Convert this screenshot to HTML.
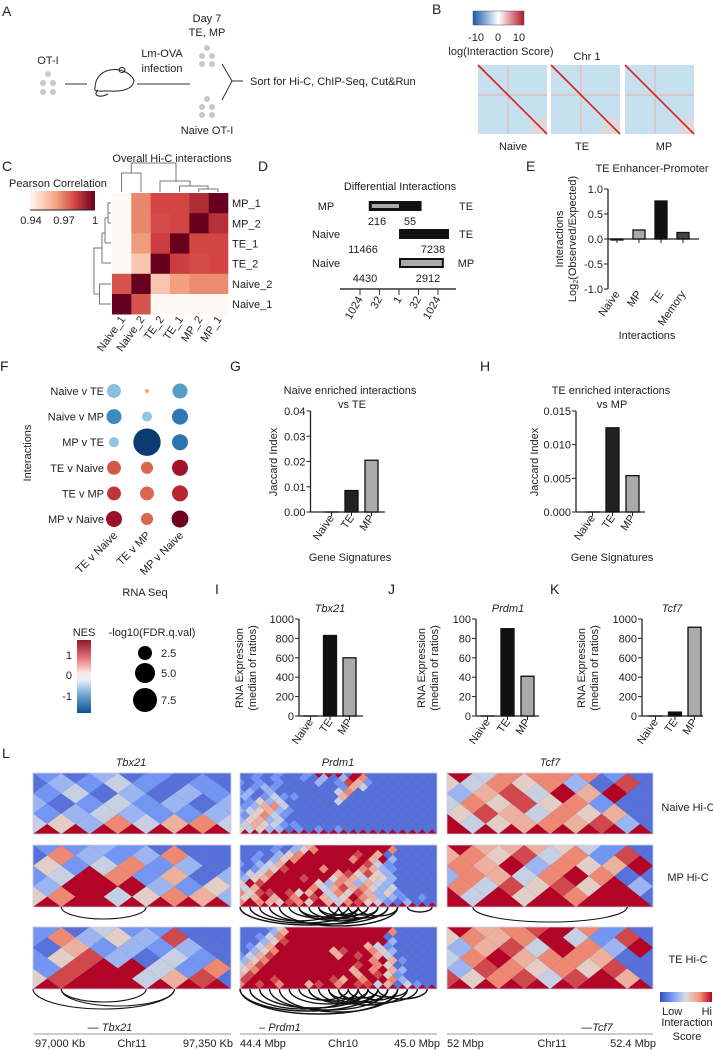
<!DOCTYPE html>
<html><head><meta charset="utf-8"><style>
html,body{margin:0;padding:0;background:#fff;}
svg{display:block;font-family:"Liberation Sans",sans-serif;}
text{fill:#222;}
</style></head><body>
<svg id="fig" width="713" height="1050" viewBox="0 0 713 1050">
<defs>
<linearGradient id="gB" x1="0" x2="1" y1="0" y2="0"><stop offset="0" stop-color="#1a5aa8"/><stop offset="0.5" stop-color="#ffffff"/><stop offset="1" stop-color="#b2182b"/></linearGradient>
<linearGradient id="gC" x1="0" x2="1"><stop offset="0" stop-color="#fff8f3"/><stop offset="0.4" stop-color="#f4a582"/><stop offset="0.7" stop-color="#d04040"/><stop offset="1" stop-color="#67001f"/></linearGradient>
<linearGradient id="gNES" x1="0" x2="0" y1="0" y2="1"><stop offset="0" stop-color="#8b1a2a"/><stop offset="0.25" stop-color="#e8757a"/><stop offset="0.45" stop-color="#fbe9e4"/><stop offset="0.55" stop-color="#e8f1f8"/><stop offset="0.75" stop-color="#6fa8d3"/><stop offset="1" stop-color="#0c4f93"/></linearGradient>
<linearGradient id="gL" x1="0" x2="1"><stop offset="0" stop-color="#3b4cc0"/><stop offset="0.25" stop-color="#7b9ff9"/><stop offset="0.5" stop-color="#dddddd"/><stop offset="0.75" stop-color="#f49a7b"/><stop offset="1" stop-color="#b40426"/></linearGradient>
</defs>

<!-- Panel A -->
<g font-size="11">
<text x="2" y="16" font-size="14">A</text>
<text x="48" y="64" text-anchor="middle">OT-I</text>
<g fill="#c8c8c8"><circle cx="48" cy="74" r="3"/><circle cx="43" cy="83" r="3"/><circle cx="53" cy="83" r="3"/><circle cx="43" cy="92" r="3"/><circle cx="53" cy="92" r="3"/></g>
<line x1="65" y1="84" x2="87" y2="84" stroke="#333"/>
<g fill="none" stroke="#222" stroke-width="1">
<path d="M95,88 C95,66 125,64 134,80 C134,86 128,92 110,91 C100,91 93,92 95,88 Z"/><ellipse cx="122" cy="70" rx="3" ry="2.5"/><path d="M98,90 C92,96 100,98 108,94"/></g>
<text x="162" y="57" text-anchor="middle">Lm-OVA</text>
<text x="162" y="72" text-anchor="middle">infection</text>
<line x1="137" y1="84" x2="190" y2="84" stroke="#333"/>
<text x="207" y="22" text-anchor="middle">Day 7</text>
<text x="207" y="36" text-anchor="middle">TE, MP</text>
<g fill="#c8c8c8"><circle cx="207" cy="48" r="3"/><circle cx="202" cy="56" r="3"/><circle cx="212" cy="56" r="3"/><circle cx="202" cy="64" r="3"/><circle cx="212" cy="64" r="3"/></g>
<path d="M222,64 L232,81 L222,100 M232,81 L243,81" fill="none" stroke="#333"/>
<text x="250" y="85">Sort for Hi-C, ChIP-Seq, Cut&amp;Run</text>
<g fill="#c8c8c8"><circle cx="207" cy="99" r="3"/><circle cx="202" cy="107" r="3"/><circle cx="212" cy="107" r="3"/><circle cx="202" cy="115" r="3"/><circle cx="212" cy="115" r="3"/></g>
<text x="207" y="134" text-anchor="middle">Naive OT-I</text>
</g>

<!-- Panel B -->
<g font-size="11">
<text x="432" y="14" font-size="14">B</text>
<rect x="473" y="11" width="51" height="14" fill="url(#gB)" stroke="#555" stroke-width="0.5"/>
<text x="476" y="41" text-anchor="middle">-10</text>
<text x="498" y="41" text-anchor="middle">0</text>
<text x="519" y="41" text-anchor="middle">10</text>
<text x="501" y="55" text-anchor="middle">log(Interaction Score)</text>
<text x="587" y="60" text-anchor="middle">Chr 1</text>
<g id="bmaps"></g>
<text x="513" y="150" text-anchor="middle">Naive</text>
<text x="582" y="150" text-anchor="middle">TE</text>
<text x="664" y="150" text-anchor="middle">MP</text>
</g>

<!-- Panel C -->
<g font-size="11">
<text x="2" y="171" font-size="14">C</text>
<text x="172" y="162" text-anchor="middle">Overall Hi-C interactions</text>
<text x="9" y="187">Pearson Correlation</text>
<rect x="30" y="191" width="65" height="19" fill="url(#gC)"/>
<line x1="30" y1="210" x2="95" y2="210" stroke="#222"/>
<text x="31" y="224" text-anchor="middle">0.94</text>
<text x="64" y="224" text-anchor="middle">0.97</text>
<text x="95" y="224" text-anchor="middle">1</text>
<g fill="none" stroke="#777" stroke-width="1">
<path d="M121.6,192 V173 H141 V192 M131.3,173 V163 H176 V181 M160,192 V181 H190 V186 M179.5,192 V186 H208 V189 M198.8,192 V189 H218 V192"/>
<path d="M111,203 H108 V213 H111 M111,223 H108 M108,213 V223 M108,218 H105 V243 M111,243 H105 M105,233 H102 M111,263 H102 V233 M102,248 H94 V294 M111,284 H99.5 V304 H111 M99.5,294 H94"/>
</g>
<g id="cmap"></g>
</g>

<!-- Panel D -->
<g font-size="11">
<text x="258" y="171" font-size="14">D</text>
<text x="400" y="190" text-anchor="middle">Differential Interactions</text>
<g id="dchart"></g>
</g>

<!-- Panel E -->
<g font-size="11">
<text x="526" y="171" font-size="14">E</text>
<text x="652" y="172" text-anchor="middle">TE Enhancer-Promoter</text>
<text transform="translate(563,239) rotate(-90)" text-anchor="middle">Interactions</text>
<text transform="translate(576,239) rotate(-90)" text-anchor="middle">Log<tspan font-size="7" dy="2">2</tspan><tspan dy="-2">(Observed/Expected)</tspan></text>
<text x="647" y="339" text-anchor="middle">Interactions</text>
<g id="echart"></g>
</g>

<!-- Panel F -->
<g font-size="11">
<text x="0" y="371" font-size="14">F</text>
<text transform="translate(31,453) rotate(-90)" text-anchor="middle">Interactions</text>
<text x="145" y="596" text-anchor="middle">RNA Seq</text>
<g id="fchart"></g>
<text x="84" y="636" text-anchor="middle">NES</text>
<rect x="77" y="640" width="14" height="73" fill="url(#gNES)"/>
<text x="72" y="659" text-anchor="end">1</text>
<text x="72" y="679" text-anchor="end">0</text>
<text x="72" y="700" text-anchor="end">-1</text>
<text x="152" y="636" text-anchor="middle">-log10(FDR.q.val)</text>
<g fill="#000"><circle cx="145" cy="653" r="7"/><circle cx="145" cy="673" r="10"/><circle cx="145" cy="700" r="12"/></g>
<text x="161" y="657">2.5</text>
<text x="161" y="677">5.0</text>
<text x="161" y="704">7.5</text>
</g>

<!-- Panels G-K -->
<g font-size="11">
<text x="230" y="371" font-size="14">G</text>
<text x="350" y="394" text-anchor="middle">Naive enriched interactions</text>
<text x="352" y="408" text-anchor="middle">vs TE</text>
<text transform="translate(277,462) rotate(-90)" text-anchor="middle">Jaccard Index</text>
<text x="350" y="561" text-anchor="middle">Gene Signatures</text>
<text x="480" y="371" font-size="14">H</text>
<text x="611" y="394" text-anchor="middle">TE enriched interactions</text>
<text x="612" y="408" text-anchor="middle">vs MP</text>
<text transform="translate(538,462) rotate(-90)" text-anchor="middle">Jaccard Index</text>
<text x="612" y="561" text-anchor="middle">Gene Signatures</text>
<text x="215" y="594" font-size="14">I</text>
<text x="388" y="594" font-size="14">J</text>
<text x="550" y="594" font-size="14">K</text>
<text x="330" y="612" text-anchor="middle" font-style="italic">Tbx21</text>
<text x="508" y="612" text-anchor="middle" font-style="italic">Prdm1</text>
<text x="672" y="612" text-anchor="middle" font-style="italic">Tcf7</text>
<text transform="translate(243,668) rotate(-90)" text-anchor="middle">RNA Expression</text>
<text transform="translate(256,668) rotate(-90)" text-anchor="middle">(median of ratios)</text>
<text transform="translate(425,668) rotate(-90)" text-anchor="middle">RNA Expression</text>
<text transform="translate(438,668) rotate(-90)" text-anchor="middle">(median of ratios)</text>
<text transform="translate(585,668) rotate(-90)" text-anchor="middle">RNA Expression</text>
<text transform="translate(598,668) rotate(-90)" text-anchor="middle">(median of ratios)</text>
<g id="bars"></g>
</g>

<!-- Panel L -->
<g font-size="11">
<text x="2" y="758" font-size="14">L</text>
<text x="131" y="766" text-anchor="middle" font-style="italic">Tbx21</text>
<text x="338" y="766" text-anchor="middle" font-style="italic">Prdm1</text>
<text x="550" y="766" text-anchor="middle" font-style="italic">Tcf7</text>
<text x="688" y="811" text-anchor="middle">Naive Hi-C</text>
<text x="688" y="881" text-anchor="middle">MP Hi-C</text>
<text x="688" y="963" text-anchor="middle">TE Hi-C</text>
<g id="hic"></g>
<text x="110" y="1031" font-style="italic" text-anchor="middle">— Tbx21</text>
<text x="280" y="1031" font-style="italic" text-anchor="middle">– Prdm1</text>
<text x="597" y="1031" font-style="italic" text-anchor="middle">—Tcf7</text>
<g stroke="#999"><line x1="34" y1="1034" x2="231" y2="1034"/><line x1="240" y1="1034" x2="437" y2="1034"/><line x1="447" y1="1034" x2="653" y2="1034"/></g>
<text x="35" y="1047">97,000 Kb</text>
<text x="132" y="1047" text-anchor="middle">Chr11</text>
<text x="233" y="1047" text-anchor="end">97,350 Kb</text>
<text x="240" y="1047">44.4 Mbp</text>
<text x="343" y="1047" text-anchor="middle">Chr10</text>
<text x="440" y="1047" text-anchor="end">45.0 Mbp</text>
<text x="447" y="1047">52 Mbp</text>
<text x="552" y="1047" text-anchor="middle">Chr11</text>
<text x="656" y="1047" text-anchor="end">52.4 Mbp</text>
<rect x="660" y="992" width="52" height="10" fill="url(#gL)"/>
<text x="662" y="1015">Low</text>
<text x="712" y="1015" text-anchor="end">Hi</text>
<text x="687" y="1026" text-anchor="middle">Interaction</text>
<text x="687" y="1040" text-anchor="middle">Score</text>
</g>
</svg>
<script>
const NS='http://www.w3.org/2000/svg';
function mk(tag,attrs,parent){const e=document.createElementNS(NS,tag);for(const k in attrs)e.setAttribute(k,attrs[k]);parent.appendChild(e);return e;}
function lerpC(stops,t){t=Math.max(0,Math.min(1,t));const n=stops.length-1;const i=Math.min(n-1,Math.floor(t*n));const f=t*n-i;const a=stops[i],b=stops[i+1];const h=s=>[1,3,5].map(j=>parseInt(s.substr(j,2),16));const A=h(a),B=h(b);return 'rgb('+A.map((v,k)=>Math.round(v+(B[k]-v)*f)).join(',')+')';}

// ---- Panel B data
const bSamples=['Naive','TE','MP'];
const bX=[478,551,625];
const bmaps=document.getElementById('bmaps');
bSamples.forEach((s,i)=>{
  const g=mk('g',{},bmaps);
  
  
  const x=bX[i];
  mk('rect',{x:x,y:65,width:69,height:69,fill:'#c6e0ef'},g);
  mk('rect',{x:x+52,y:118,width:17,height:16,fill:'#eed3cc',opacity:0.6},g);
  mk('line',{x1:x,y1:95,x2:x+69,y2:95,stroke:'#e8b8b0',"stroke-width":1.2},g);
  mk('line',{x1:x+30,y1:65,x2:x+30,y2:134,stroke:'#e8b8b0',"stroke-width":1.2},g);
  mk('line',{x1:x,y1:65,x2:x+69,y2:134,stroke:'#d62020',"stroke-width":1.6},g);
});

// ---- Panel C data
const cRows=['MP_1','MP_2','TE_1','TE_2','Naive_2','Naive_1'];
const cCols=['Naive_1','Naive_2','TE_2','TE_1','MP_2','MP_1'];
const cVals=[
 [0.93,0.966,0.979,0.979,0.986,1],
 [0.93,0.966,0.978,0.979,1,0.985],
 [0.93,0.962,0.981,1,0.979,0.979],
 [0.93,0.952,1,0.981,0.978,0.979],
 [0.976,1,0.952,0.961,0.965,0.965],
 [1,0.976,0.93,0.93,0.93,0.93]];
const cStops=['#fff8f3','#f4a582','#d04040','#67001f'];
const cmap=document.getElementById('cmap');
const cw=19.33,ch=20.2,cx0=112,cy0=193;
cVals.forEach((row,r)=>row.forEach((v,c)=>{
  const e=mk('rect',{x:cx0+c*cw,y:cy0+r*ch,width:cw+0.3,height:ch+0.3,fill:lerpC(cStops,(v-0.94)/0.06)},cmap);
  
  
}));
cRows.forEach((n,r)=>{const t=mk('text',{x:232,y:cy0+r*ch+ch/2+4},cmap);t.textContent=n;
  
  });
cCols.forEach((n,c)=>{const t=mk('text',{transform:'translate('+(cx0+c*cw+cw/2+4)+','+(cy0+6*ch+5)+') rotate(-55)','text-anchor':'end'},cmap);t.textContent=n;
  
  });

// ---- Panel D data
const dLeftLabels=['MP','Naive','Naive'];
const dRightLabels=['TE','TE','MP'];
const dLeftCounts=[216,11466,4430];
const dRightCounts=[55,7238,2912];
const dTicks=['1024','32','1','32','1024'];
const dTickVals=[-1024,-32,1,32,1024];
const dchart=document.getElementById('dchart');
const dZero=399,dPer=3.9;
const dx=v=>v<0?dZero-Math.log2(-v)*dPer:dZero+Math.log2(v)*dPer;
const dRowY=[201,229,258];
dLeftLabels.forEach((l,i)=>{
  const y=dRowY[i];
  let t=mk('text',{x:326,y:y+9,'text-anchor':'middle'},dchart);t.textContent=l;
  
  
  t=mk('text',{x:466,y:y+9,'text-anchor':'middle'},dchart);t.textContent=dRightLabels[i];
  
  
  const xr=dx(dRightCounts[i]);
  if(i===0){
    const xl=dx(-dLeftCounts[i]);
    let b=mk('rect',{x:xl,y:y,width:xr-xl,height:10,fill:'#111'},dchart);
    
    
    b=mk('rect',{x:xl+3,y:y+3,width:dZero-xl-3,height:4,fill:'#aaa'},dchart);
    
    
  } else if(i===1){
    const b=mk('rect',{x:dZero,y:y,width:xr-dZero,height:10,fill:'#111'},dchart);
    
    
  } else {
    const b=mk('rect',{x:dZero+1,y:y+1,width:xr-dZero-2,height:8,fill:'#aaa',stroke:'#111','stroke-width':2},dchart);
    
    
  }
  t=mk('text',{x:[377,363,365][i],y:y+24,'text-anchor':'middle'},dchart);t.textContent=dLeftCounts[i];
  
  
  t=mk('text',{x:[410,433,428][i],y:y+24,'text-anchor':'middle'},dchart);t.textContent=dRightCounts[i];
  
  
});
let dax=mk('line',{x1:340,y1:289,x2:456,y2:289,stroke:'#333','stroke-width':1.5},dchart);


dTickVals.forEach((v,i)=>{const x=dx(v);
  const tk=mk('line',{x1:x,y1:289,x2:x,y2:295,stroke:'#333'},dchart);
  
  
  const t=mk('text',{transform:'translate('+(x+3)+',299) rotate(-60)','text-anchor':'end'},dchart);t.textContent=dTicks[i];
  
  });

// ---- generic bar chart
function barChart(parent,name,cfg){
  const g=mk('g',{},parent);
  
  
  const y=v=>cfg.y0-(v-cfg.vmin)/(cfg.vmax-cfg.vmin)*(cfg.y0-cfg.y1);
  const ax=mk('line',{x1:cfg.ax,y1:cfg.y1,x2:cfg.ax,y2:cfg.y0,stroke:'#222','stroke-width':1.3},g);
  
  
  const bx=mk('line',{x1:cfg.ax,y1:y(0),x2:cfg.xend,y2:y(0),stroke:'#222','stroke-width':1.3},g);
  
  
  cfg.ticks.forEach((tv,i)=>{
    const tk=mk('line',{x1:cfg.ax-4,y1:y(tv),x2:cfg.ax,y2:y(tv),stroke:'#222'},g);
    
    
    const t=mk('text',{x:cfg.ax-5,y:y(tv)+4,'text-anchor':'end'},g);t.textContent=cfg.tickLabels[i];
    
    
  });
  cfg.cats.forEach((c,i)=>{
    const x=cfg.bx0+i*cfg.step;
    const v=cfg.vals[i];
    const top=Math.min(y(v),y(0)),h=Math.abs(y(v)-y(0));
    const r=mk('rect',{x:x,y:top,width:cfg.bw,height:Math.max(h,0.01),fill:cfg.fills[i],stroke:'#111','stroke-width':1.3},g);
    
    
    const tk=mk('line',{x1:x+cfg.bw/2,y1:y(0),x2:x+cfg.bw/2,y2:y(0)+4,stroke:'#222'},g);
    
    
    const t=mk('text',{transform:'translate('+(x+cfg.bw/2+3)+','+(cfg.labY)+') rotate(-55)','text-anchor':'end'},g);t.textContent=c;
    
    
  });
}

// Panel E data
const eCats=['Naive','MP','TE','Memory'];
const eVals=[-0.02,0.18,0.76,0.13];
const eTicks=[1,0.5,0,-0.5,-1];
const eTickLabels=['1.0','0.5','0.0','-0.5','-1.0'];
barChart(document.getElementById('echart'),'e-chart',{cats:eCats,vals:eVals,ticks:eTicks,tickLabels:eTickLabels,fills:['#555','#aaa','#111','#444'],vmin:-1,vmax:1,y0:289,y1:189,ax:608,xend:699,bx0:611,step:22,bw:12,labY:294});

// Panel G data
const gCats=['Naive','TE','MP'];
const gVals=[0,0.0085,0.0205];
const gTicks=[0,0.01,0.02,0.03,0.04];
const gTickLabels=['0.00','0.01','0.02','0.03','0.04'];
const barsEl=document.getElementById('bars');
barChart(barsEl,'g-chart',{cats:gCats,vals:gVals,ticks:gTicks,tickLabels:gTickLabels,fills:['#222','#222','#aaa'],vmin:0,vmax:0.04,y0:512,y1:411,ax:310.5,xend:385,bx0:325,step:20,bw:13,labY:518});
// Panel H data
const hCats=['Naive','TE','MP'];
const hVals=[0,0.0125,0.0054];
const hTicks=[0,0.005,0.01,0.015];
const hTickLabels=['0.000','0.005','0.010','0.015'];
barChart(barsEl,'h-chart',{cats:hCats,vals:hVals,ticks:hTicks,tickLabels:hTickLabels,fills:['#222','#222','#aaa'],vmin:0,vmax:0.015,y0:512,y1:411,ax:576,xend:645,bx0:586,step:20,bw:13,labY:518});
// Panel I data
const iCats=['Naive','TE','MP'];
const iVals=[0,830,600];
const iTicks=[0,200,400,600,800,1000];
const iTickLabels=['0','200','400','600','800','1000'];
barChart(barsEl,'i-chart',{cats:iCats,vals:iVals,ticks:iTicks,tickLabels:iTickLabels,fills:['#111','#111','#aaa'],vmin:0,vmax:1000,y0:716,y1:619,ax:299,xend:363,bx0:304,step:19.5,bw:13,labY:722});
// Panel J data
const jCats=['Naive','TE','MP'];
const jVals=[0,90,41];
const jTicks=[0,20,40,60,80,100];
const jTickLabels=['0','20','40','60','80','100'];
barChart(barsEl,'j-chart',{cats:jCats,vals:jVals,ticks:jTicks,tickLabels:jTickLabels,fills:['#111','#111','#aaa'],vmin:0,vmax:100,y0:716,y1:619,ax:476,xend:539,bx0:481,step:20,bw:13,labY:722});
// Panel K data
const kCats=['Naive','TE','MP'];
const kVals=[0,40,915];
const kTicks=[0,200,400,600,800,1000];
const kTickLabels=['0','200','400','600','800','1000'];
barChart(barsEl,'k-chart',{cats:kCats,vals:kVals,ticks:kTicks,tickLabels:kTickLabels,fills:['#111','#111','#aaa'],vmin:0,vmax:1000,y0:716,y1:619,ax:642,xend:703,bx0:649,step:19.5,bw:13,labY:722});

// ---- Panel F data
const fRows=['Naive v TE','Naive v MP','MP v TE','TE v Naive','TE v MP','MP v Naive'];
const fCols=['TE v Naive','TE v MP','MP v Naive'];
const fNes=[[-0.55,0.5,-0.9],[-1.1,-0.5,-1.3],[-0.5,-1.9,-1.35],[1.05,0.95,1.6],[1.3,0.95,1.4],[1.65,0.95,1.95]];
const fFdr=[[2.5,0.2,2.9],[2.9,1.3,3.3],[1.3,9.7,3.3],[2.5,1.9,3.3],[2.5,2.5,3.3],[3.3,1.9,3.7]];
const fStops=['#053061','#2166ac','#4393c3','#92c5de','#f7f7f7','#f4a582','#d6604d','#b2182b','#67001f'];
const fchart=document.getElementById('fchart');
const fColX=[114,147,180],fRowY0=391,fRowStep=25.6;
fRows.forEach((rn,r)=>{
  const y=fRowY0+r*fRowStep;
  const t=mk('text',{x:104,y:y+4,'text-anchor':'end'},fchart);t.textContent=rn;
  
  
  fCols.forEach((cn,c)=>{
    const e=mk('circle',{cx:fColX[c],cy:y,r:4.4*Math.sqrt(fFdr[r][c]),fill:lerpC(fStops,(fNes[r][c]+2)/4)},fchart);
    
    
  });
});
fCols.forEach((cn,c)=>{const t=mk('text',{transform:'translate('+(fColX[c]+4)+',536) rotate(-45)','text-anchor':'end'},fchart);t.textContent=cn;
  
  });

// ---- Panel L data (Hi-C diamond levels, digits 0-9 = low-high score)
const hicTbx21Naive=['99999999','45374674','23432232','31242313','24131321','13242121','21312111'];
const hicTbx21MP=['99999999','57945763','39993251','24972613','52472312','17323711','22321111'];
const hicTbx21TE=['99999999','58994681','28994271','25831421','16232311','27353811','21422111'];
const hicPrdm1Naive=['999999999999999999999','545331212121111111111','465422111111111111111','356341111111111111111','257421111111111111111','345632111111111111111','236741111111111111111','125341111141111111111','312422111161111111111','231311111147111111111','123211111126411111111','212121113128621111111','121211213139711111111','112121129991911111111'];
const hicPrdm1MP=['999999999999999999999','797658759647854213111','569697986459763321211','758898569475863521111','469999974686753411111','598999995376364311111','356999899576455311111','245799999968585311111','124589997999763211111','213469999999984211111','121357999997969311111','112135799999896111111','111213579999999711111','111121369999999911111'];
const hicPrdm1TE=['999999999999999999999','798979968979884614211','899899999869799731111','689999999999698521111','579999999996979631111','468999999999897511111','357999999999979621111','246899999969896411111','135799999689975311111','124699999999964211111','113589999999999311111','112479999999999111111','111369999999999711111','111259999999999911111'];
const hicTcf7Naive=['999999999','945676831','586475611','475857211','368496911','547573181','947777211'];
const hicTcf7MP=['999999999','949597991','748585931','376479711','769375691','675847281','966654211'];
const hicTcf7TE=['999999999','857848961','387575811','479677611','368497391','576794281','967897211'];
// arcs: [start bin, end bin, depth px]
const arcsTbx21MP=[[1,4,12]];
const arcsTbx21TE=[[0,5,20],[1,4,13],[1,5,17]];
const arcsPrdm1MP=[[0,14,18],[1,12,16],[2,10,14],[3,15,17],[5,13,12],[6,11,10],[7,12,11],[8,14,12],[9,13,9],[10,15,11],[11,14,8],[12,16,9],[17,19.5,5],[4,16,19],[6,14,14],[8,12,8]];
const arcsPrdm1TE=[[0,14,22],[0,16,25],[1,12,20],[2,13,19],[3,15,21],[4,16,23],[5,13,15],[6,11,11],[7,12,12],[8,14,14],[9,13,10],[10,15,13],[11,14,9],[12,16,11],[9,17,16],[10,18,14],[13,17,8],[14,19,10],[7,15,15]];
const arcsTcf7MP=[[1,7,15]];
const hicStops=['#3b4cc0','#7b9ff9','#dddddd','#f49a7b','#b40426'];
const hicEl=document.getElementById('hic');
const colX=[33,240,447],colW=[198,197,206],rowTop=[773,845,927],rowH=[61,62,62];
const colBins=[7,20,8];
const colNames=['tbx21','prdm1','tcf7'];
const sampleNames=['naive','mp','te'];
const hicData=[[hicTbx21Naive,hicTbx21MP,hicTbx21TE],[hicPrdm1Naive,hicPrdm1MP,hicPrdm1TE],[hicTcf7Naive,hicTcf7MP,hicTcf7TE]];
const arcData=[[[],arcsTbx21MP,arcsTbx21TE],[[],arcsPrdm1MP,arcsPrdm1TE],[[],arcsTcf7MP,[]]];
hicData.forEach((col,ci)=>col.forEach((levels,ri)=>{
  const x0=colX[ci],W=colW[ci],y0=rowTop[ri],H=rowH[ri];
  const w=W/colBins[ci],hh=H/(levels.length-1);
  const g=mk('g',{},hicEl);
  
  
  const cid='clip'+ci+ri;
  const cp=mk('clipPath',{id:cid},g);mk('rect',{x:x0,y:y0,width:W,height:H},cp);
  const bg=mk('rect',{x:x0,y:y0,width:W,height:H,fill:'#3b4cc0'},g);
  
  
  const inner=mk('g',{'clip-path':'url(#'+cid+')'},g);
  const bottom=y0+H;
  levels.forEach((s,k)=>{
    for(let idx=0;idx<s.length;idx++){
      const v=parseInt(s[idx]);
      const xc=x0+w*(idx+(k%2===0?0.5:0));
      const yc=bottom-k*hh;
      const p=mk('polygon',{points:(xc-w/2)+','+yc+' '+xc+','+(yc-hh)+' '+(xc+w/2)+','+yc+' '+xc+','+(yc+hh),fill:lerpC(hicStops,v/9)},inner);
      
      
    }
  });
  mk('rect',{x:x0,y:y0,width:W,height:H,fill:'none',stroke:'#c8cde8','stroke-width':0.8},g);
  arcData[ci][ri].forEach(a=>{
    const xa=x0+a[0]*w,xb=x0+a[1]*w,rx=(xb-xa)/2;
    const arc=mk('path',{d:'M'+xa+','+bottom+' A'+rx+','+a[2]+' 0 0 0 '+xb+','+bottom,fill:'none',stroke:'#111','stroke-width':ci===1?1.4:1.1},g);
    
    
  });
}));
</script>
</body></html>
